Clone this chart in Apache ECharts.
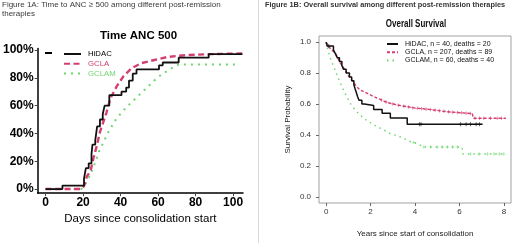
<!DOCTYPE html>
<html>
<head>
<meta charset="utf-8">
<script src="https://cdn.jsdelivr.net/npm/echarts@6/dist/echarts.min.js"></script>
<style>html,body{margin:0;padding:0;background:#fff}#c{width:520px;height:243px}</style>
</head>
<body>
<div id="c"></div>
<script>
// ---------- Figure 1A: Time to ANC >= 500 ----------
const ancTicksX = [0, 20, 40, 60, 80, 100];
const ancTicksY = [0, 20, 40, 60, 80, 100];
const ancNames = ['HiDAC', 'GCLA', 'GCLAM'];
const ancHidacDay = [0, 9, 20.5, 21.5, 23, 24.5, 25, 26.5, 27.5, 29, 30.5, 31.5, 34, 40.5, 43, 44.5, 46.5, 48.5, 60.5, 62.5, 71, 87, 105];
const ancHidacPct = [0, 2.5, 7.5, 15, 18.5, 25, 32, 35, 45, 50, 54, 60, 67.5, 70, 73, 78, 83, 86, 89, 91, 94.5, 97, 97];
const ancGclaDay = [0, 19, 20.5, 22, 24, 25.5, 27.5, 29, 31, 32.5, 34.5, 38, 41.5, 46, 51, 58, 65, 75, 88, 105];
const ancGclaPct = [0, 0, 2, 9, 13, 22, 32, 41, 49, 55, 65, 74, 81, 87, 90.5, 92.8, 95, 96.3, 97, 97.5];
const ancGclamDay = [0, 19, 21, 23, 25, 27, 28.5, 31, 33.5, 37, 40.5, 44, 47.5, 51, 54.5, 58, 61.5, 65, 68.5, 71, 103];
const ancGclamPct = [0, 0, 3, 8, 14, 21, 27, 34, 41, 49, 55, 60, 64.5, 69, 73.5, 78, 82, 85, 88, 89.5, 89.5];

// ---------- Figure 1B: Overall survival ----------
const osTicksX = [0, 2, 4, 6, 8];
const osTicksY = [0, 0.2, 0.4, 0.6, 0.8, 1.0];
const osNames = ['HiDAC, n = 40, deaths = 20', 'GCLA, n = 207, deaths = 89', 'GCLAM, n = 60, deaths = 40'];
const osHidacYr = [0, 0.05, 0.33, 0.42, 0.5, 0.6, 0.71, 0.78, 0.9, 1.05, 1.15, 1.25, 1.3, 1.36, 1.41, 1.48, 1.61, 1.72, 2.14, 2.52, 2.89, 3.65, 7.04];
const osHidacSurv = [1, 0.975, 0.95, 0.925, 0.9, 0.875, 0.85, 0.825, 0.8, 0.775, 0.75, 0.725, 0.7, 0.675, 0.65, 0.625, 0.6, 0.59, 0.565, 0.54, 0.51, 0.47, 0.47];
const osGclaYr = [0, 0.18, 0.41, 0.63, 0.78, 1.0, 1.24, 1.39, 1.54, 1.84, 2.14, 2.44, 2.74, 3.2, 3.95, 4.7, 5.45, 6.58, 6.62, 8.09];
const osGclaSurv = [1, 0.96, 0.93, 0.867, 0.836, 0.783, 0.74, 0.71, 0.69, 0.67, 0.648, 0.63, 0.61, 0.594, 0.575, 0.564, 0.55, 0.538, 0.508, 0.508];
const osGclamYr = [0, 0.18, 0.33, 0.48, 0.63, 0.78, 0.93, 1.08, 1.24, 1.46, 1.69, 1.99, 2.29, 2.59, 2.89, 3.2, 3.5, 3.8, 4.1, 4.38, 6.12, 6.15, 8.09];
const osGclamSurv = [1, 0.9, 0.846, 0.79, 0.74, 0.69, 0.648, 0.606, 0.575, 0.538, 0.508, 0.48, 0.454, 0.433, 0.408, 0.395, 0.377, 0.356, 0.345, 0.322, 0.322, 0.277, 0.277];
const osHidacCens = [0.12, 4.2, 4.27, 6.05, 6.3, 6.5, 6.75, 6.9];
const osGclaCens = [2.5, 2.7, 3.0, 3.25, 3.5, 3.7, 3.9, 4.1, 4.3, 4.5, 4.7, 4.9, 5.1, 5.3, 5.5, 5.7, 5.9, 6.1, 6.3, 6.5, 6.7, 6.9, 7.1, 7.4, 7.7, 7.9];
const osGclamCens = [3.95, 4.4, 4.7, 5.0, 5.23, 5.45, 5.68, 5.9, 6.5, 6.88, 7.26, 7.56, 7.79, 8.0];

const colBlack = '#111111';
const colPink = '#d43f6e';
const colGreen = '#6fd66f';

const pairs = (xs, ys) => xs.map((x, i) => [x, ys[i]]);
function stepAt(xs, ys, t) { let v = ys[0]; for (let i = 0; i < xs.length; i++) if (xs[i] <= t) v = ys[i]; return v; }
function linAt(xs, ys, t) {
  for (let i = 1; i < xs.length; i++) if (t <= xs[i]) { const f = (t - xs[i-1]) / (xs[i] - xs[i-1]); return ys[i-1] + f * (ys[i] - ys[i-1]); }
  return ys[ys.length - 1];
}
const plusSym = 'path://M2,0H3V2H5V3H3V5H2V3H0V2H2Z';

const chart = echarts.init(document.getElementById('c'), null, {renderer: 'canvas'});
const ff = "'Liberation Sans', Arial, sans-serif";

const option = {
  backgroundColor: '#ffffff',
  animation: false,
  textStyle: {fontFamily: ff},
  grid: [
    {left: 35, top: 48.6, width: 208, height: 144.6},
    {left: 319, top: 36, width: 192, height: 172, show: true, borderColor: '#8a8a8a', borderWidth: 0.8, backgroundColor: 'transparent'}
  ],
  xAxis: [
    {gridIndex: 0, type: 'value', min: -4.2, max: 105.3,
     axisLine: {onZero: false, lineStyle: {color: '#000', width: 1.5}},
     axisTick: {customValues: ancTicksX, length: 3, lineStyle: {color: '#444'}},
     axisLabel: {customValues: ancTicksX, fontWeight: 'bold', fontSize: 12, color: '#000', margin: 3},
     splitLine: {show: false},
     name: 'Days since consolidation start', nameLocation: 'middle', nameGap: 18,
     nameTextStyle: {fontSize: 11.5, color: '#000'}},
    {gridIndex: 1, type: 'value', min: -0.32, max: 8.32,
     axisLine: {show: false, onZero: false},
     axisTick: {customValues: osTicksX, length: 3, lineStyle: {color: '#666'}},
     axisLabel: {customValues: osTicksX, fontSize: 8, color: '#333', margin: 5},
     splitLine: {show: false},
     name: 'Years since start of consolidation', nameLocation: 'middle', nameGap: 27,
     nameTextStyle: {fontSize: 8, color: '#222'}}
  ],
  yAxis: [
    {gridIndex: 0, type: 'value', min: -3, max: 101,
     axisLine: {show: true, onZero: false, lineStyle: {color: '#000', width: 1.5}},
     axisTick: {show: true, customValues: ancTicksY, length: 3, lineStyle: {color: '#444'}},
     axisLabel: {customValues: ancTicksY, formatter: v => v + '%', fontWeight: 'bold', fontSize: 12, color: '#000', margin: 4},
     splitLine: {show: false}},
    {gridIndex: 1, type: 'value', min: -0.04, max: 1.04,
     axisLine: {show: false, onZero: false},
     axisTick: {show: true, customValues: osTicksY, length: 3, lineStyle: {color: '#666'}},
     axisLabel: {customValues: osTicksY, formatter: v => v.toFixed(1), fontSize: 8, color: '#333', margin: 8},
     splitLine: {show: false},
     name: 'Survival Probability', nameLocation: 'middle', nameGap: 27, nameRotate: 90,
     nameTextStyle: {fontSize: 8, color: '#222'}}
  ],
  legend: [
    {orient: 'vertical', left: 58, top: 45, itemWidth: 17, itemHeight: 8, itemGap: 1.8,
     itemStyle: {opacity: 0},
     data: [
       {name: ancNames[0], textStyle: {color: '#000'}},
       {name: ancNames[1], textStyle: {color: colPink}},
       {name: ancNames[2], textStyle: {color: colGreen}}],
     textStyle: {fontSize: 7.8, padding: [0, 0, 0, 2], fontFamily: ff}},
    {orient: 'vertical', left: 381, top: 35.5, itemWidth: 11, itemHeight: 8, itemGap: 1.2,
     itemStyle: {opacity: 0},
     data: osNames,
     textStyle: {fontSize: 7, color: '#111', padding: [0, 0, 0, 2], fontFamily: ff}}
  ],
  series: [
    {name: ancNames[0], type: 'line', xAxisIndex: 0, yAxisIndex: 0, step: 'end', symbol: 'none',
     data: pairs(ancHidacDay, ancHidacPct), color: colBlack, lineStyle: {color: colBlack, width: 1.8}, z: 5},
    {name: ancNames[1], type: 'line', xAxisIndex: 0, yAxisIndex: 0, symbol: 'none',
     data: pairs(ancGclaDay, ancGclaPct), color: colPink, lineStyle: {color: colPink, width: 2.4, type: [6, 3.5]}, z: 4},
    {name: ancNames[2], type: 'line', xAxisIndex: 0, yAxisIndex: 0, symbol: 'none',
     data: pairs(ancGclamDay, ancGclamPct), color: colGreen, lineStyle: {color: colGreen, width: 2, type: [2, 5]}, z: 3},

    {name: osNames[0], type: 'line', xAxisIndex: 1, yAxisIndex: 1, step: 'end', symbol: 'none',
     data: pairs(osHidacYr, osHidacSurv), color: colBlack, lineStyle: {color: colBlack, width: 1.5}, z: 5},
    {name: osNames[1], type: 'line', xAxisIndex: 1, yAxisIndex: 1, symbol: 'none',
     data: pairs(osGclaYr, osGclaSurv), color: colPink, lineStyle: {color: colPink, width: 1.4, type: [3, 2]}, z: 4},
    {name: osNames[2], type: 'line', xAxisIndex: 1, yAxisIndex: 1, symbol: 'none',
     data: pairs(osGclamYr, osGclamSurv), color: colGreen, lineStyle: {color: colGreen, width: 1.5, type: [1.5, 4]}, z: 3},

    {name: 'HiDAC censored', type: 'scatter', xAxisIndex: 1, yAxisIndex: 1, symbol: plusSym, symbolSize: 4,
     itemStyle: {color: colBlack}, data: osHidacCens.map(t => [t, stepAt(osHidacYr, osHidacSurv, t)]), z: 6},
    {name: 'GCLA censored', type: 'scatter', xAxisIndex: 1, yAxisIndex: 1, symbol: plusSym, symbolSize: 3.5,
     itemStyle: {color: colPink}, data: osGclaCens.map(t => [t, linAt(osGclaYr, osGclaSurv, t)]), z: 6},
    {name: 'GCLAM censored', type: 'scatter', xAxisIndex: 1, yAxisIndex: 1, symbol: plusSym, symbolSize: 3.5,
     itemStyle: {color: colGreen}, data: osGclamCens.map(t => [t, linAt(osGclamYr, osGclamSurv, t)]), z: 6}
  ],
  graphic: [
    {type: 'text', left: 2, top: 1, style: {text: 'Figure 1A: Time to ANC \u2265 500 among different post-remission', font: "8px 'Liberation Sans', Arial", fill: '#3a3a3a'}},
    {type: 'text', left: 2, top: 10, style: {text: 'therapies', font: "8px 'Liberation Sans', Arial", fill: '#3a3a3a'}},
    {type: 'text', x: 265, y: 1, scaleX: 0.98, style: {text: 'Figure 1B: Overall survival among different post-remission therapies', font: "bold 7.5px 'Liberation Sans', Arial", fill: '#333'}},
    {type: 'text', x: 138.5, y: 36, style: {text: 'Time ANC 500', font: "bold 11.5px 'Liberation Sans', Arial", fill: '#000', align: 'center', verticalAlign: 'middle'}},
    {type: 'text', x: 416, y: 24, scaleX: 0.8, style: {text: 'Overall Survival', font: "bold 10px 'Liberation Sans', Arial", fill: '#111', align: 'center', verticalAlign: 'middle'}},
    {type: 'rect', shape: {x: 45, y: 52, width: 7, height: 2}, style: {fill: '#000'}},
    {type: 'line', shape: {x1: 258.5, y1: 0, x2: 258.5, y2: 243}, style: {stroke: '#d8d8d8', lineWidth: 1}}
  ]
};
chart.setOption(option);
</script>
</body>
</html>
